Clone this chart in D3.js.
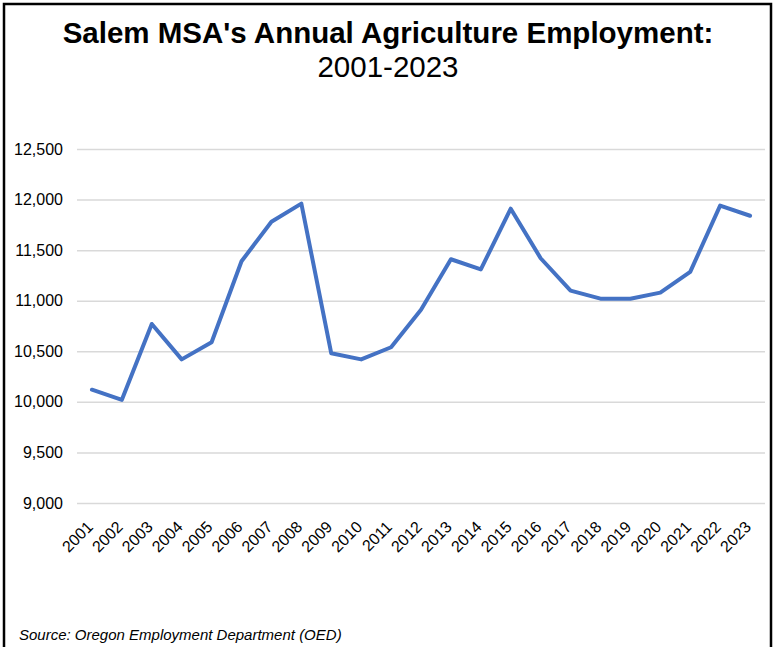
<!DOCTYPE html>
<html>
<head>
<meta charset="utf-8">
<script src="https://cdn.jsdelivr.net/npm/d3@7"></script>
<style>
  html, body { margin: 0; padding: 0; background: #fff; }
  svg { display: block; font-family: Arial, "Liberation Sans", sans-serif; }
</style>
</head>
<body>
<div id="chart"></div>
<script>
// chart data
const years = ['2001', '2002', '2003', '2004', '2005', '2006', '2007', '2008', '2009', '2010', '2011', '2012',
    '2013', '2014', '2015', '2016', '2017', '2018', '2019', '2020', '2021', '2022', '2023'];
const employment = [10120, 10020, 10770, 10420, 10590, 11390, 11780, 11960, 10480, 10420, 10540, 10910,
    11410, 11310, 11910, 11420, 11100, 11020, 11020, 11080, 11285, 11940, 11840];
const yTicks = [9000, 9500, 10000, 10500, 11000, 11500, 12000, 12500];
const titleLine1 = "Salem MSA's Annual Agriculture Employment:";
const titleLine2 = '2001-2023';
const sourceText = 'Source: Oregon Employment Department (OED)';

const W = 777, H = 647;
const margin = { top: 149, right: 12, bottom: 144, left: 77 };

const svg = d3.select('#chart').append('svg')
    .attr('width', W)
    .attr('height', H);

svg.append('rect')
    .attr('x', 0).attr('y', 0).attr('width', W).attr('height', H)
    .attr('fill', '#fff');

// outer frame (bottom edge runs off the picture)
svg.append('rect')
    .attr('x', 4).attr('y', 4)
    .attr('width', 767).attr('height', 700)
    .attr('fill', 'none')
    .attr('stroke', '#000')
    .attr('stroke-width', 2.5);

svg.append('text')
    .attr('x', 388).attr('y', 43)
    .attr('text-anchor', 'middle')
    .style('font-size', '29.5px').style('font-weight', 'bold')
    .text(titleLine1);

svg.append('text')
    .attr('x', 388).attr('y', 77)
    .attr('text-anchor', 'middle')
    .style('font-size', '29.5px')
    .text(titleLine2);

const x = d3.scaleBand()
    .domain(years)
    .range([margin.left, W - margin.right]);

const y = d3.scaleLinear()
    .domain([9000, 12500])
    .range([H - margin.bottom, margin.top]);

// gridlines + y labels
const yAxis = svg.append('g')
    .attr('transform', `translate(${margin.left},0)`)
    .call(d3.axisLeft(y)
        .tickValues(yTicks)
        .tickSize(-(W - margin.left - margin.right))
        .tickPadding(14)
        .tickFormat(d3.format(',')));
yAxis.select('.domain').remove();
yAxis.selectAll('.tick line').attr('stroke', '#d9d9d9').attr('stroke-width', 1.5);
yAxis.selectAll('.tick text')
    .attr('fill', '#000')
    .style('font-size', '16px')
    .style('font-family', 'Arial, "Liberation Sans", sans-serif');

// x labels, rotated
const xAxis = svg.append('g')
    .attr('transform', `translate(0,${H - margin.bottom})`)
    .call(d3.axisBottom(x).tickSize(0).tickPadding(0));
xAxis.select('.domain').remove();
xAxis.selectAll('.tick text')
    .attr('fill', '#000')
    .style('font-size', '16px')
    .style('font-family', 'Arial, "Liberation Sans", sans-serif')
    .attr('text-anchor', 'end')
    .attr('dy', null)
    .attr('transform', 'translate(2,25) rotate(-45)');

const line = d3.line()
    .x((d, i) => x(years[i]) + x.bandwidth() / 2)
    .y(d => y(d));

svg.append('path')
    .datum(employment)
    .attr('d', line)
    .attr('fill', 'none')
    .attr('stroke', '#4472c4')
    .attr('stroke-width', 4)
    .attr('stroke-linejoin', 'round')
    .attr('stroke-linecap', 'round');

svg.append('text')
    .attr('x', 19).attr('y', 640)
    .style('font-size', '15px').style('font-style', 'italic')
    .text(sourceText);
</script>
</body>
</html>
